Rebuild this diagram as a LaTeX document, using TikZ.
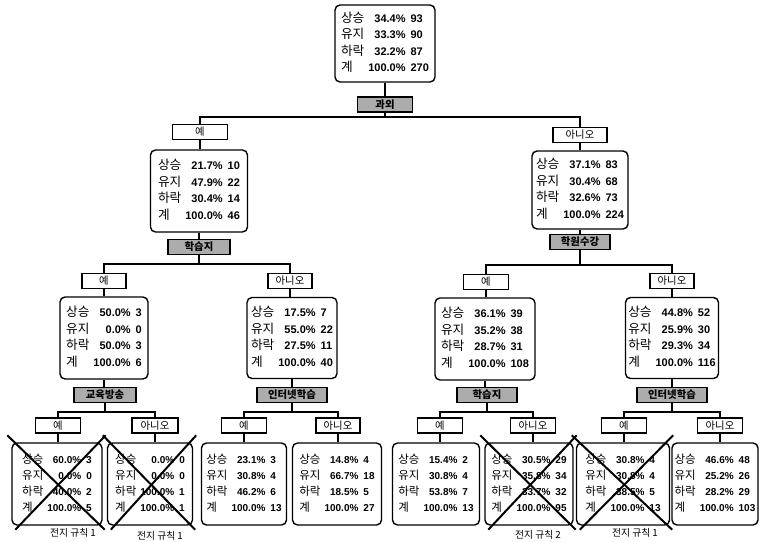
\documentclass[tikz,border=0pt]{standalone}
\usepackage{fontspec}
\setmainfont{Liberation Sans}
\newfontfamily\kr[Scale=1.15]{Noto Sans CJK KR}
\usetikzlibrary{calc}

\newcommand\stattab[8]{%
\begin{tabular}{@{}l@{\hspace{4pt}}r@{\hspace{5pt}}l@{}}
{\kr 상승}&\textbf{#1}&\textbf{#2}\\
{\kr 유지}&\textbf{#3}&\textbf{#4}\\
{\kr 하락}&\textbf{#5}&\textbf{#6}\\
{\kr 계}&\textbf{#7}&\textbf{#8}
\end{tabular}}

\tikzset{
  box/.style={draw, line width=1.4pt, rounded corners=5pt, inner sep=0pt, font=\fontsize{11}{16.5}\selectfont},
  leafbox/.style={box, minimum height=82pt, font=\fontsize{10}{16}\selectfont},
  yn/.style={draw, line width=1.3pt, inner sep=0pt, minimum height=15pt, font=\kr\fontsize{9}{11}\selectfont},
  split/.style={draw, line width=1.3pt, fill=gray!65, inner sep=0pt, minimum height=15pt, font=\kr\bfseries\fontsize{9}{11}\selectfont},
  conn/.style={line width=1.3pt},
  cross/.style={line width=2pt},
  rulelab/.style={font=\kr\fontsize{8.5}{10}\selectfont}
}

\begin{document}
\begin{tikzpicture}[x=1pt,y=-1pt]
\useasboundingbox (0,0) rectangle (760,541);

% root
\node[box, minimum width=100pt, minimum height=77pt] (root) at (385,43.5) {\stattab{34.4\%}{93}{33.3\%}{90}{32.2\%}{87}{100.0\%}{270}};
\node[split, minimum width=55pt] (s0) at (385,104.5) {과외};
\coordinate (b0) at (385,117);

% level 1
\node[yn, minimum width=55pt] (y1) at (200,132) {예};
\node[yn, minimum width=54pt] (n1) at (580,135) {아니오};
\node[box, minimum width=97pt, minimum height=82pt] (a1) at (199,191) {\stattab{21.7\%}{10}{47.9\%}{22}{30.4\%}{14}{100.0\%}{46}};
\node[box, minimum width=96pt, minimum height=78pt] (a2) at (580,190) {\stattab{37.1\%}{83}{30.4\%}{68}{32.6\%}{73}{100.0\%}{224}};
\node[split, minimum width=62pt] (s1) at (199,247) {학습지};
\node[split, minimum width=60pt] (s2) at (580,242) {학원수강};
\coordinate (b1) at (199,264);
\coordinate (b2) at (580,265);

% level 2
\node[yn, minimum width=44pt] (y11) at (104,281) {예};
\node[yn, minimum width=44pt] (n11) at (290,281) {아니오};
\node[yn, minimum width=45pt] (y21) at (486,282) {예};
\node[yn, minimum width=44pt] (n21) at (672,281) {아니오};
\node[box, minimum width=88pt, minimum height=82pt] (c1) at (104,338) {\stattab{50.0\%}{3}{0.0\%}{0}{50.0\%}{3}{100.0\%}{6}};
\node[box, minimum width=90pt, minimum height=81pt] (c2) at (292,338) {\stattab{17.5\%}{7}{55.0\%}{22}{27.5\%}{11}{100.0\%}{40}};
\node[box, minimum width=100pt, minimum height=82pt] (c3) at (485,339) {\stattab{36.1\%}{39}{35.2\%}{38}{28.7\%}{31}{100.0\%}{108}};
\node[box, minimum width=93pt, minimum height=81pt] (c4) at (672,338) {\stattab{44.8\%}{52}{25.9\%}{30}{29.3\%}{34}{100.0\%}{116}};
\node[split, minimum width=62pt] (s11) at (105,395) {교육방송};
\node[split, minimum width=70pt] (s12) at (292,395) {인터넷학습};
\node[split, minimum width=60pt] (s21) at (487,395) {학습지};
\node[split, minimum width=70pt] (s22) at (672,395) {인터넷학습};
\coordinate (b11) at (105,412);
\coordinate (b12) at (292,412);
\coordinate (b21) at (487,412);
\coordinate (b22) at (672,412);

% level 3
\node[yn, minimum width=45pt] (y111) at (58,425.5) {예};
\node[yn, minimum width=46pt] (n111) at (155,425.5) {아니오};
\node[yn, minimum width=45pt] (y121) at (244,425.5) {예};
\node[yn, minimum width=44pt] (n121) at (338,425.5) {아니오};
\node[yn, minimum width=45pt] (y211) at (440,425.5) {예};
\node[yn, minimum width=45pt] (n211) at (533,425.5) {아니오};
\node[yn, minimum width=45pt] (y221) at (624,425.5) {예};
\node[yn, minimum width=45pt] (n221) at (720,425.5) {아니오};

\node[leafbox, minimum width=90pt] (d1) at (57,484) {\stattab{60.0\%}{3}{0.0\%}{0}{40.0\%}{2}{100.0\%}{5}};
\node[leafbox, minimum width=85pt] (d2) at (150,484) {\stattab{0.0\%}{0}{0.0\%}{0}{100.0\%}{1}{100.0\%}{1}};
\node[leafbox, minimum width=85pt] (d3) at (244,484) {\stattab{23.1\%}{3}{30.8\%}{4}{46.2\%}{6}{100.0\%}{13}};
\node[leafbox, minimum width=89pt] (d4) at (337,484) {\stattab{14.8\%}{4}{66.7\%}{18}{18.5\%}{5}{100.0\%}{27}};
\node[leafbox, minimum width=87pt] (d5) at (436,484) {\stattab{15.4\%}{2}{30.8\%}{4}{53.8\%}{7}{100.0\%}{13}};
\node[leafbox, minimum width=88pt] (d6) at (529,484) {\stattab{30.5\%}{29}{35.8\%}{34}{33.7\%}{32}{100.0\%}{95}};
\node[leafbox, minimum width=93pt] (d7) at (623,484) {\stattab{30.8\%}{4}{30.8\%}{4}{38.5\%}{5}{100.0\%}{13}};
\node[leafbox, minimum width=86pt] (d8) at (715,484) {\stattab{46.6\%}{48}{25.2\%}{26}{28.2\%}{29}{100.0\%}{103}};

% connectors
\draw[conn] (root.south) -- (s0.north);
\draw[conn] (s0.south) -- (b0);
\draw[conn] (y1.north) |- (b0);
\draw[conn] (n1.north) |- (b0);
\draw[conn] (y1.south) -- (y1.south |- a1.north);
\draw[conn] (n1.south) -- (n1.south |- a2.north);
\draw[conn] (a1.south) -- (a1.south |- s1.north);
\draw[conn] (a2.south) -- (a2.south |- s2.north);
\draw[conn] (s1.south) -- (b1);
\draw[conn] (s2.south) -- (b2);
\draw[conn] (y11.north) |- (b1);
\draw[conn] (n11.north) |- (b1);
\draw[conn] (y21.north) |- (b2);
\draw[conn] (n21.north) |- (b2);
\foreach \l/\b in {y11/c1,n11/c2,y21/c3,n21/c4}
  \draw[conn] (\l.south) -- (\l.south |- \b.north);
\foreach \b/\s in {c1/s11,c2/s12,c3/s21,c4/s22}
  \draw[conn] (\b.south) -- (\b.south |- \s.north);
\draw[conn] (s11.south) -- (b11);
\draw[conn] (s12.south) -- (b12);
\draw[conn] (s21.south) -- (b21);
\draw[conn] (s22.south) -- (b22);
\draw[conn] (y111.north) |- (b11);
\draw[conn] (n111.north) |- (b11);
\draw[conn] (y121.north) |- (b12);
\draw[conn] (n121.north) |- (b12);
\draw[conn] (y211.north) |- (b21);
\draw[conn] (n211.north) |- (b21);
\draw[conn] (y221.north) |- (b22);
\draw[conn] (n221.north) |- (b22);
\foreach \l/\b in {y111/d1,n111/d2,y121/d3,n121/d4,y211/d5,n211/d6,y221/d7,n221/d8}
  \draw[conn] (\l.south) -- (\l.south |- \b.north);

% pruning crosses
\foreach \b in {d1,d2,d6,d7}{
  \draw[cross] ([shift={(-4,-7)}]\b.north west) -- ([shift={(2,4)}]\b.south east);
  \draw[cross] ([shift={(3,-7)}]\b.north east) -- ([shift={(4,4)}]\b.south west);
}

% rule labels
\node[rulelab] (r1) at (73,533) {전지 규칙 1};
\node[rulelab] (r2) at (160,536) {전지 규칙 1};
\node[rulelab] (r3) at (538,535) {전지 규칙 2};
\node[rulelab] (r4) at (635,533) {전지 규칙 1};
\end{tikzpicture}
\end{document}
